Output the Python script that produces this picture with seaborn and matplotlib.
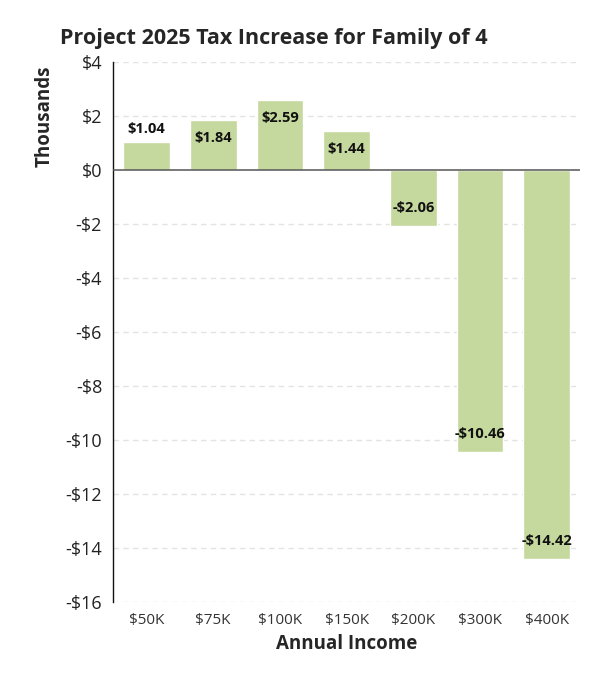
import numpy as np
import pandas as pd
import matplotlib
matplotlib.use("Agg")
import matplotlib.pyplot as plt
import seaborn as sns

# Chart data
incomes = ["$50K", "$75K", "$100K", "$150K", "$200K", "$300K", "$400K"]
tax_change = [1.04, 1.84, 2.59, 1.44, -2.06, -10.46, -14.42]
y_ticks = [4, 2, 0, -2, -4, -6, -8, -10, -12, -14, -16]

df = pd.DataFrame({"income": incomes, "change": tax_change})

sns.set_style("white")
plt.rcParams["font.family"] = ["Open Sans", "DejaVu Sans"]

fig = plt.figure(figsize=(6.05, 6.8), dpi=100)
ax = fig.add_axes([0.187, 0.1147, 0.772, 0.7941])

# gridlines behind bars
for t in y_ticks:
    if t != 0:
        ax.axhline(t, color="#e3e3e3", lw=1, ls=(0, (4, 3)), zorder=0)

sns.barplot(data=df, x="income", y="change", color="#c5d89d", saturation=1,
            width=0.7, ax=ax, zorder=2)

ax.axhline(0, color="#555555", lw=1.1, zorder=3)

# value labels: inside bar end, except small bar goes outside
for i, v in enumerate(tax_change):
    txt = f"-${abs(v):.2f}" if v < 0 else f"${v:.2f}"
    if abs(v) < 1.2:
        off = 9
    else:
        off = -13 if v > 0 else 13
    ax.annotate(txt, xy=(i, v), xytext=(0, off), textcoords="offset points",
                ha="center", va="center", fontsize=10.5, fontweight="bold",
                color="#111111", zorder=4)

ax.set_ylim(-16, 4)
ax.set_xlim(-0.5, 6.5)
ax.set_yticks(y_ticks)
ax.set_yticklabels([f"-${abs(t)}" if t < 0 else f"${t}" for t in y_ticks],
                   fontsize=13, color="#222222")
ax.tick_params(axis="x", labelsize=11, colors="#333333", length=0, pad=8)
ax.tick_params(axis="y", length=0, pad=8)

for s in ["top", "right", "bottom"]:
    ax.spines[s].set_visible(False)
ax.spines["left"].set_color("#111111")
ax.spines["left"].set_linewidth(1)

ax.set_xlabel("Annual Income", fontsize=13.5, fontweight="bold", labelpad=4)
ax.set_ylabel("Thousands", fontsize=13.5, fontweight="bold")
ax.yaxis.set_label_coords(-0.125, 0.9)

fig.text(0.099, 0.943, "Project 2025 Tax Increase for Family of 4",
         fontsize=15.5, fontweight="bold", ha="left", va="center")

fig.savefig("out.png", dpi=100, facecolor="white")
